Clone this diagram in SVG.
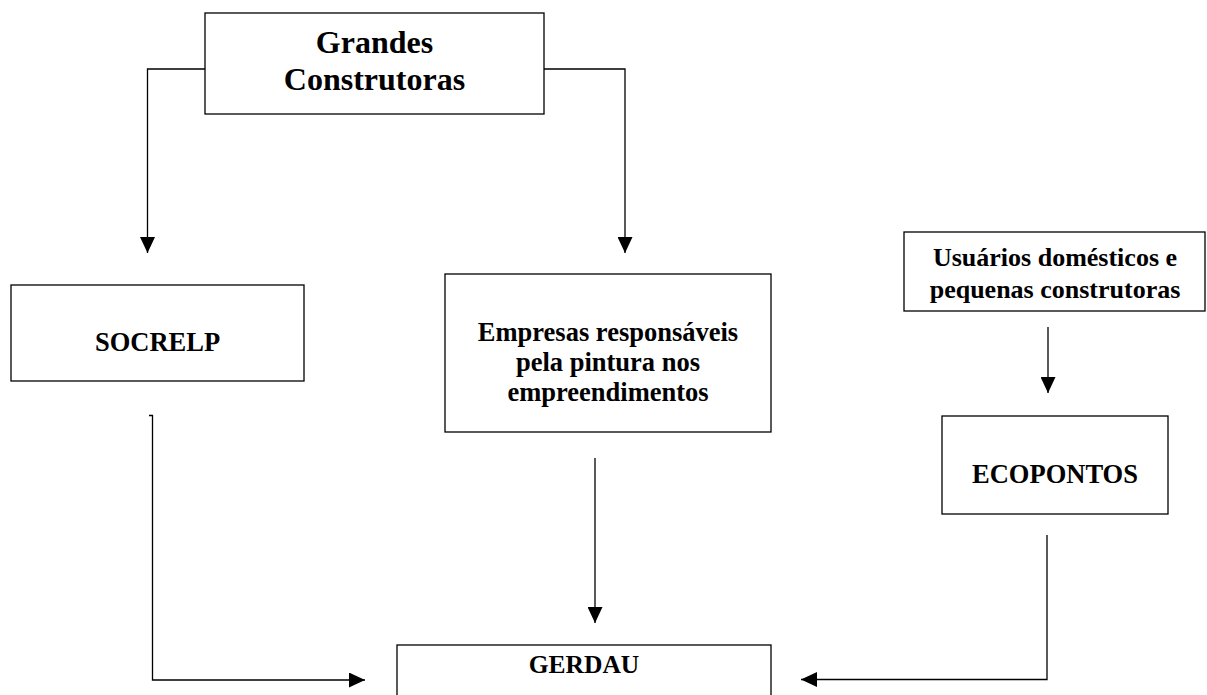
<svg xmlns="http://www.w3.org/2000/svg" width="1207" height="695" viewBox="0 0 1207 695">
  <style>
    .box { fill: #fff; stroke: #000; stroke-width: 1.3; }
    .lbl { font-family: "Liberation Serif", "Times New Roman", serif; font-weight: bold; fill: #000; text-anchor: middle; }
    .conn { fill: none; stroke: #000; stroke-width: 1.3; marker-end: url(#arrow); }
  </style>
  <defs>
    <marker id="arrow" markerUnits="userSpaceOnUse" markerWidth="16" markerHeight="15" refX="16" refY="7.5" orient="auto">
      <path d="M0,0 L16,7.5 L0,15 Z" fill="#000"/>
    </marker>
  </defs>
  <rect width="1207" height="695" fill="#fff"/>

  <g id="connectors">
    <polyline class="conn" points="205,69 147.5,69 147.5,253"/>
    <polyline class="conn" points="544,69 625,69 625,253"/>
    <polyline class="conn" points="149,415.5 152.5,415.5 152.5,680 365,680"/>
    <polyline class="conn" points="595,458 595,623"/>
    <polyline class="conn" points="1048,327 1048,393"/>
    <polyline class="conn" points="1047,535 1047,679.5 801,679.5"/>
  </g>

  <g id="grandes-construtoras">
    <rect class="box" x="205" y="13" width="339" height="101"/>
    <text class="lbl" x="374.5" y="53" font-size="32">Grandes</text>
    <text class="lbl" x="374.5" y="90" font-size="32">Construtoras</text>
  </g>

  <g id="socrelp">
    <rect class="box" x="11" y="285" width="293" height="96"/>
    <text class="lbl" x="157.5" y="351" font-size="26.5">SOCRELP</text>
  </g>

  <g id="empresas">
    <rect class="box" x="445" y="274" width="326" height="158"/>
    <text class="lbl" x="608" y="340.5" font-size="26.5">Empresas responsáveis</text>
    <text class="lbl" x="608" y="370.5" font-size="26.5">pela pintura nos</text>
    <text class="lbl" x="608" y="400.5" font-size="26.5">empreendimentos</text>
  </g>

  <g id="usuarios">
    <rect class="box" x="904" y="232" width="301" height="79"/>
    <text class="lbl" x="1055" y="266" font-size="26">Usuários domésticos e</text>
    <text class="lbl" x="1055" y="298" font-size="26">pequenas construtoras</text>
  </g>

  <g id="ecopontos">
    <rect class="box" x="942" y="416" width="226" height="98"/>
    <text class="lbl" x="1055" y="483" font-size="26.5">ECOPONTOS</text>
  </g>

  <g id="gerdau">
    <rect class="box" x="397" y="645" width="374" height="70"/>
    <text class="lbl" x="584" y="673" font-size="25.5">GERDAU</text>
  </g>
</svg>
